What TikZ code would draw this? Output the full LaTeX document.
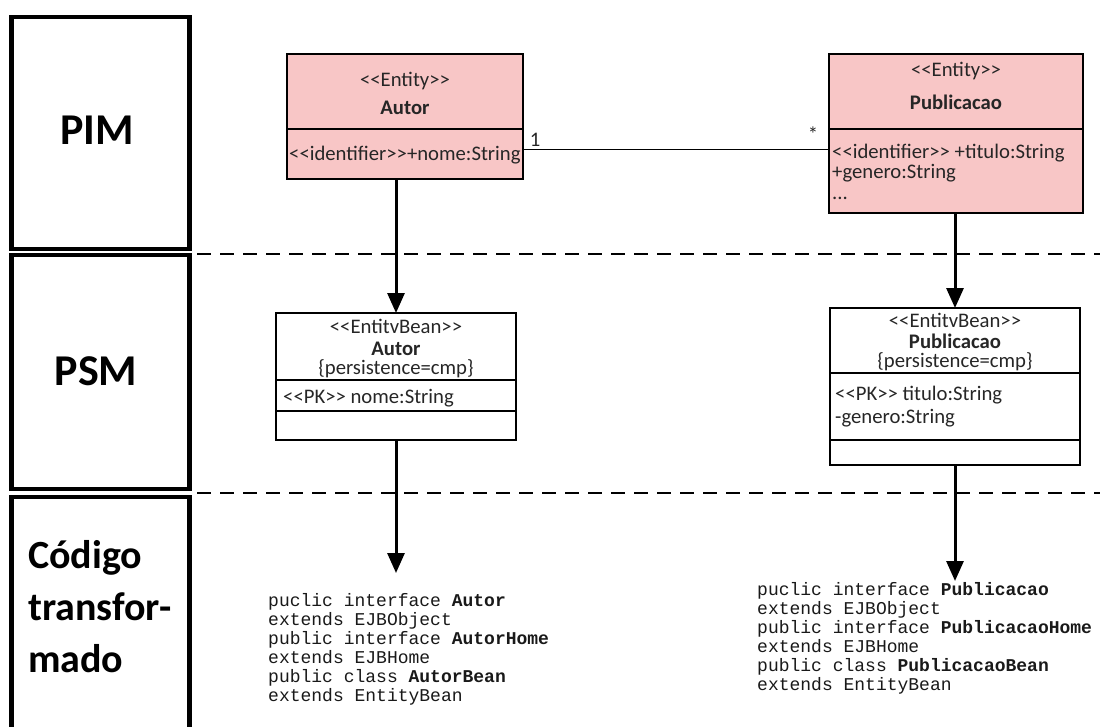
\documentclass[tikz,border=0pt]{standalone}
\usepackage{fontspec}
\setmainfont{Carlito}
\newfontfamily\codefont{Liberation Mono}
\usetikzlibrary{arrows.meta}
\definecolor{pimfill}{RGB}{248,198,198}
% stereotype brackets, kept as two separate < and > characters
\newcommand\gu[1]{<\kern0pt<#1>\kern0pt>}

\begin{document}
\begin{tikzpicture}[x=1pt,y=-1pt,
  panel/.style={draw, line width=4.5pt, inner sep=0pt, outer sep=0pt},
  layerlabel/.style={font=\fontsize{44}{52}\selectfont\bfseries, inner sep=0pt},
  umlbox/.style={draw, line width=1.1pt, inner sep=0pt, outer sep=0pt},
  pimbox/.style={umlbox, fill=pimfill},
  umltext/.style={font=\fontsize{20.7}{24}\selectfont, inner sep=0pt, text=black!85},
  codeline/.style={font=\codefont\fontsize{18}{19}\selectfont, inner sep=0pt, anchor=base west, text=black!90},
  layersep/.style={line width=2.5pt, dash pattern=on 14pt off 9pt},
  flow/.style={line width=3pt, -{Triangle[length=20pt,width=17pt]}},
  compline/.style={line width=1.1pt},
]
\useasboundingbox (0,0) rectangle (1113,727);

% layer panels on the left
\node[panel, minimum width=178pt, minimum height=232pt] (pimPanel) at (100.5,133) {};
\node[panel, minimum width=178pt, minimum height=234pt] (psmPanel) at (100.5,372) {};
\node[panel, minimum width=178pt, minimum height=243pt] (codePanel) at (100.5,618.5) {};
\node[layerlabel] (pimLabel) at (97,130) {PIM};
\node[layerlabel] (psmLabel) at (96,371) {PSM};
\node[layerlabel, font=\fontsize{40}{52}\selectfont\bfseries, anchor=base west] (codeLabelA) at (28,568) {Código};
\node[layerlabel, font=\fontsize{40}{52}\selectfont\bfseries, anchor=base west] (codeLabelB) at (28,620) {transfor-};
\node[layerlabel, font=\fontsize{40}{52}\selectfont\bfseries, anchor=base west] (codeLabelC) at (28,672) {mado};

% dashed layer separators
\coordinate (sepA1) at (197,254);
\coordinate (sepA2) at (1100,254);
\coordinate (sepB1) at (197,493);
\coordinate (sepB2) at (1100,493);
\draw[layersep] (sepA1) -- (sepA2);
\draw[layersep] (sepB1) -- (sepB2);

% PIM: Autor
\node[pimbox, minimum width=236pt, minimum height=125pt] (autorPim) at (405,116.5) {};
\draw[compline] (autorPim.west |- 0,129) -- (autorPim.east |- 0,129);
\node[umltext, anchor=base] (autorPimStereo) at (405,87) {\gu{Entity}};
\node[umltext, anchor=base] (autorPimName) at (405,115) {\bfseries Autor};
\node[umltext, anchor=base west] (autorPimAttr) at (289,161) {\gu{identifier}+nome:String};

% PIM: Publicacao
\node[pimbox, minimum width=254pt, minimum height=159pt] (pubPim) at (956,133.5) {};
\draw[compline] (pubPim.west |- 0,129) -- (pubPim.east |- 0,129);
\node[umltext, anchor=base] (pubPimStereo) at (956,77) {\gu{Entity}};
\node[umltext, anchor=base] (pubPimName) at (956,110) {\bfseries Publicacao};
\node[umltext, anchor=base west] (pubPimAttrA) at (832,159) {\gu{identifier} +titulo:String};
\node[umltext, anchor=base west] (pubPimAttrB) at (832,179) {+genero:String};
\node[umltext, anchor=base west] (pubPimAttrC) at (832,200) {...};

% association between the two entities
\coordinate (assocLevel) at (0,150);
\draw[line width=1pt] (autorPim.east |- assocLevel) -- (pubPim.west |- assocLevel);
\node[umltext] (multAutor) at (535,140) {1};
\node[umltext] (multPub) at (813,134) {*};

% PSM: Autor
\node[umlbox, minimum width=240pt, minimum height=127pt] (autorPsm) at (396,376.5) {};
\draw[compline] (autorPsm.west |- 0,380) -- (autorPsm.east |- 0,380);
\draw[compline] (autorPsm.west |- 0,411) -- (autorPsm.east |- 0,411);
\node[umltext, anchor=base] (autorPsmStereo) at (396,333) {\gu{EntitvBean}};
\node[umltext, anchor=base] (autorPsmName) at (396,355) {\bfseries Autor};
\node[umltext, anchor=base] (autorPsmTag) at (396,374) {\{persistence=cmp\}};
\node[umltext, anchor=base west] (autorPsmAttr) at (283,403) {\gu{PK} nome:String};

% PSM: Publicacao
\node[umlbox, minimum width=250pt, minimum height=157pt] (pubPsm) at (955,386.5) {};
\draw[compline] (pubPsm.west |- 0,373) -- (pubPsm.east |- 0,373);
\draw[compline] (pubPsm.west |- 0,440) -- (pubPsm.east |- 0,440);
\node[umltext, anchor=base] (pubPsmStereo) at (955,327) {\gu{EntitvBean}};
\node[umltext, anchor=base] (pubPsmName) at (955,348) {\bfseries Publicacao};
\node[umltext, anchor=base] (pubPsmTag) at (955,367) {\{persistence=cmp\}};
\node[umltext, anchor=base west] (pubPsmAttrA) at (835,400) {\gu{PK} titulo:String};
\node[umltext, anchor=base west] (pubPsmAttrB) at (835,423) {-genero:String};

% transformation arrows
\draw[flow] (autorPsm.north |- autorPim.south) -- (autorPsm.north);
\draw[flow] (pubPsm.north |- pubPim.south) -- (pubPsm.north);
\coordinate (codeTipAutor) at (396,573);
\coordinate (codeTipPub) at (955,581);
\draw[flow] (autorPsm.south) -- (codeTipAutor);
\draw[flow] (pubPsm.south) -- (codeTipPub);

% generated code
\foreach \t [count=\i from 0] in {
  {puclic interface \textbf{Autor}},
  {extends EJBObject},
  {public interface \textbf{AutorHome}},
  {extends EJBHome},
  {public class \textbf{AutorBean}},
  {extends EntityBean}}
  \node[codeline] (codeAutor\i) at (268,{606+19*\i}) {\t};
\foreach \t [count=\i from 0] in {
  {puclic interface \textbf{Publicacao}},
  {extends EJBObject},
  {public interface \textbf{PublicacaoHome}},
  {extends EJBHome},
  {public class \textbf{PublicacaoBean}},
  {extends EntityBean}}
  \node[codeline] (codePub\i) at (757,{595+19*\i}) {\t};
\end{tikzpicture}
\end{document}
